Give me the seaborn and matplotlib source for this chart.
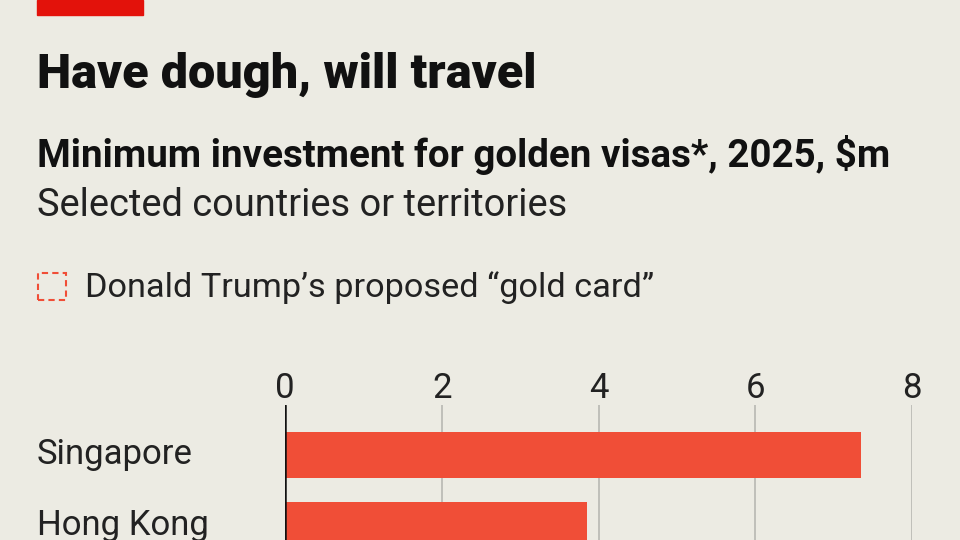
import matplotlib
matplotlib.use("Agg")
import matplotlib.pyplot as plt
import seaborn as sns
import pandas as pd
from matplotlib.patches import Rectangle
from matplotlib.transforms import blended_transform_factory

countries = ["Singapore", "Hong Kong"]
values = [7.35, 3.85]
ticks = [0, 2, 4, 6, 8]

bg = "#ecebe3"
red = "#f04e37"
sns.set_theme(style="white")
plt.rcParams['font.family'] = ['Roboto', 'DejaVu Sans']

fig = plt.figure(figsize=(9.6, 5.4), dpi=100, facecolor=bg)
W, H = 960, 540
fig.patches.append(Rectangle((37/W, 1-15/H), 106/W, 15/H, transform=fig.transFigure, color="#e3120b", zorder=5))
fig.text(37/W, 1-75/H, "Have dough, will travel", fontsize=35, fontweight="heavy", va="center", color="#111")
fig.text(37/W, 1-155/H, "Minimum investment for golden visas*, 2025, $m", fontsize=27.7, fontweight="bold", va="center", color="#111")
fig.text(37/W, 1-205/H, "Selected countries or territories", fontsize=27.4, va="center", color="#222")
fig.patches.append(Rectangle((38/W, 1-300/H), 28/W, 27/H, transform=fig.transFigure, fill=False,
                             edgecolor=red, linestyle=(0, (3, 2)), linewidth=1.5))
fig.text(85/W, 1-288/H, "Donald Trump’s proposed “gold card”", fontsize=24.7, va="center", color="#222")

ax = fig.add_axes([285/W, 0, (912-285)/W, 135/H])
ax.set_facecolor(bg)
df = pd.DataFrame({"country": countries, "value": values})
sns.barplot(data=df, x="value", y="country", color=red, width=0.657, ax=ax, saturation=1, zorder=3, linewidth=0)
ax.set_xlim(0, 8)
ax.set_ylim(1.214, -0.714)
ax.set_xticks(ticks)
ax.set_xticklabels([str(t) for t in ticks])
ax.xaxis.tick_top()
ax.tick_params(axis="x", length=0, labelsize=25, pad=0, colors="#222")
ax.set_yticks([])
ax.set_xlabel(""); ax.set_ylabel("")
for s in ax.spines.values():
    s.set_visible(False)
for t in ticks[1:]:
    ax.axvline(t, color="#b8b8b2", lw=1.2, zorder=1)
ax.axvline(0, color="#111", lw=1.8, zorder=4)
tr = blended_transform_factory(fig.transFigure, ax.transData)
for i, c in enumerate(countries):
    ax.text(37/W, i, c, transform=tr, fontsize=25, va="center", ha="left", color="#222")
fig.savefig("out.png", dpi=100, facecolor=bg)
